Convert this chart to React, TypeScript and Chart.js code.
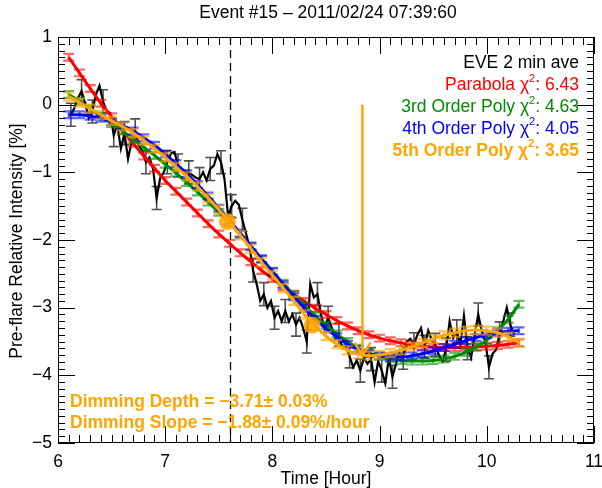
import React, { useEffect, useRef } from "react";
import { Chart, registerables } from "chart.js";

Chart.register(...registerables);

const TITLE = "Event #15 – 2011/02/24 07:39:60";
const X_LABEL = "Time [Hour]";
const Y_LABEL = "Pre-flare Relative Intensity [%]";
const X_TICKS = [6, 7, 8, 9, 10, 11];
const Y_TICKS = [1, 0, -1, -2, -3, -4, -5];

// EVE 2-minute averages
const EVE_START = 6.12; // hour of first sample
const EVE_CADENCE = 2 / 60; // hours
const EVE_VALUES = [
  -0.15, -0.05, 0.1, 0.2, 0.02, -0.2, -0.1, 0.15, 0.28, 0.05,
  -0.1, -0.12, -0.45, -0.3, -0.65, -0.42, -0.8, -0.55, -0.38, -0.6,
  -0.68, -0.85, -0.78, -0.95, -1.38, -1.08, -1.0, -0.85, -0.72, -0.7,
  -0.9, -0.95, -0.98, -1.0, -1.04, -1.08, -1.1, -1.0, -1.12, -0.95,
  -0.9, -0.73, -0.85, -1.1, -1.65, -1.5, -1.42, -1.48, -1.7, -1.9,
  -2.1, -2.45, -2.65, -2.9, -2.8, -3.0, -2.9, -3.15, -3.05, -3.2,
  -3.05, -3.2, -3.1, -3.25, -3.15, -3.3, -3.5, -2.65, -2.85, -2.8,
  -3.1, -3.3, -3.15, -3.3, -3.45, -3.4, -3.6, -3.58, -3.72, -3.88,
  -3.78, -3.93, -3.74, -3.83, -3.76, -4.1, -3.79, -3.93, -4.12, -3.74,
  -4.02, -3.83, -3.64, -3.74, -3.5, -3.46, -3.54, -3.4, -3.3, -3.58,
  -3.34, -3.48, -3.55, -3.7, -3.79, -3.62, -3.2, -3.45, -3.35, -3.55,
  -3.12, -3.6, -3.74, -3.4, -3.1, -3.35, -3.5, -3.88, -3.68, -3.62,
  -3.38, -3.2, -3.0, -3.25, -3.4,
];
const EVE_ERR = 0.17;

// Fit curves sampled on a 0.1 hour grid
const FIT_TIMES = [
  6.1, 6.2, 6.3, 6.4, 6.5, 6.6, 6.7, 6.8, 6.9, 7.0,
  7.1, 7.2, 7.3, 7.4, 7.5, 7.6, 7.7, 7.8, 7.9, 8.0,
  8.1, 8.2, 8.3, 8.4, 8.5, 8.6, 8.7, 8.8, 8.9, 9.0,
  9.1, 9.2, 9.3, 9.4, 9.5, 9.6, 9.7, 9.8, 9.9, 10.0,
  10.1, 10.2, 10.3,
];
const PARABOLA = [
  0.7, 0.47, 0.24, 0.02, -0.18, -0.38, -0.57, -0.76, -0.94, -1.12,
  -1.28, -1.44, -1.6, -1.76, -1.91, -2.05, -2.19, -2.32, -2.45, -2.57,
  -2.69, -2.8, -2.91, -3.01, -3.1, -3.19, -3.27, -3.34, -3.4, -3.45,
  -3.49, -3.52, -3.55, -3.57, -3.58, -3.59, -3.59, -3.59, -3.58, -3.57,
  -3.56, -3.54, -3.52,
];
const POLY3 = [
  0.15, 0.05, -0.06, -0.17, -0.28, -0.39, -0.51, -0.63, -0.75, -0.88,
  -1.01, -1.15, -1.29, -1.44, -1.59, -1.74, -1.92, -2.1, -2.28, -2.46,
  -2.64, -2.81, -2.97, -3.12, -3.26, -3.39, -3.5, -3.6, -3.67, -3.72,
  -3.75, -3.78, -3.79, -3.79, -3.78, -3.76, -3.72, -3.66, -3.58, -3.48,
  -3.34, -3.17, -2.95,
];
const POLY4 = [
  -0.15, -0.15, -0.17, -0.2, -0.25, -0.31, -0.39, -0.49, -0.6, -0.73,
  -0.87, -1.02, -1.18, -1.35, -1.53, -1.71, -1.9, -2.09, -2.28, -2.47,
  -2.66, -2.84, -3.01, -3.17, -3.31, -3.43, -3.54, -3.62, -3.68, -3.71,
  -3.73, -3.73, -3.71, -3.68, -3.64, -3.59, -3.54, -3.49, -3.44, -3.4,
  -3.37, -3.35, -3.34,
];
const POLY5 = [
  0.12, 0.03, -0.06, -0.15, -0.24, -0.32, -0.42, -0.53, -0.65, -0.78,
  -0.92, -1.06, -1.21, -1.38, -1.55, -1.74, -1.93, -2.13, -2.33, -2.52,
  -2.71, -2.9, -3.1, -3.27, -3.42, -3.54, -3.63, -3.69, -3.71, -3.7,
  -3.67, -3.63, -3.58, -3.52, -3.46, -3.41, -3.37, -3.34, -3.33, -3.34,
  -3.37, -3.43, -3.52,
];
const FIT_ERR = [0.05, 0.05, 0.05, 0.06];

const LEGEND_LABELS = ["EVE 2 min ave", "Parabola", "3rd Order Poly", "4th Order Poly", "5th Order Poly"];
const CHI2 = [null, "6.43", "4.63", "4.05", "3.65"];
const COLORS = ["#000000", "#ff0000", "#008a00", "#0000ff", "#ffa500"];
const CAP_COLORS = ["#505050", "rgba(255,0,0,0.6)", "rgba(0,138,0,0.6)", "rgba(0,0,255,0.6)", "rgba(255,165,0,0.65)"];

const FLARE_TIME = 7.6;
const SLOPE_TIMES = [7.58, 8.37];
const SLOPE_VALUES = [-1.73, -3.26];
const DEPTH_TIME = 8.84;
const DEPTH_VALUE = -3.71;
const DEPTH_TEXT = "Dimming Depth = −3.71± 0.03%";
const SLOPE_TEXT = "Dimming Slope = −1.88± 0.09%/hour";

const FONT = "'Liberation Sans', Arial, Helvetica, sans-serif";

type Part = { text: string; font: string; dy?: number };

function drawRich(ctx: CanvasRenderingContext2D, parts: Part[], xRight: number, y: number) {
  let total = 0;
  for (const p of parts) {
    ctx.font = p.font;
    total += ctx.measureText(p.text).width;
  }
  let x = xRight - total;
  ctx.textAlign = "left";
  ctx.textBaseline = "middle";
  for (const p of parts) {
    ctx.font = p.font;
    ctx.fillText(p.text, x, y + (p.dy || 0));
    x += ctx.measureText(p.text).width;
  }
}

const fmt = (v: number) => (v < 0 ? "−" + Math.abs(v) : String(v));

const overlayPlugin = {
  id: "overlay",
  beforeDatasetsDraw(chart: any) {
    const { ctx, chartArea, scales } = chart;
    const x = Math.round(scales.x.getPixelForValue(FLARE_TIME)) + 0.5;
    ctx.save();
    ctx.strokeStyle = "#000";
    ctx.lineWidth = 1.3;
    ctx.setLineDash([8, 5]);
    ctx.beginPath();
    ctx.moveTo(x, chartArea.top);
    ctx.lineTo(x, chartArea.bottom);
    ctx.stroke();
    ctx.restore();
  },
  beforeDatasetDraw(chart: any, args: any) {
    const ds = chart.data.datasets[args.index] as any;
    const { ctx, scales, chartArea } = chart;
    ctx.save();
    ctx.beginPath();
    ctx.rect(chartArea.left, chartArea.top, chartArea.right - chartArea.left, chartArea.bottom - chartArea.top);
    ctx.clip();
    ctx.strokeStyle = ds.capColor;
    ctx.lineWidth = ds.capWidthLine;
    const half = ds.capHalf;
    ds.data.forEach((p: any, i: number) => {
      if (i % ds.errStep !== 0) return;
      const px = scales.x.getPixelForValue(p.x);
      const yt = scales.y.getPixelForValue(p.y + ds.err);
      const yb = scales.y.getPixelForValue(p.y - ds.err);
      ctx.beginPath();
      ctx.moveTo(px, yt);
      ctx.lineTo(px, yb);
      ctx.moveTo(px - half, yt);
      ctx.lineTo(px + half, yt);
      ctx.moveTo(px - half, yb);
      ctx.lineTo(px + half, yb);
      ctx.stroke();
    });
    ctx.restore();
  },
  afterDatasetsDraw(chart: any) {
    const { ctx, scales } = chart;
    ctx.save();
    ctx.fillStyle = "rgba(255,165,0,0.85)";
    SLOPE_TIMES.forEach((t, i) => {
      ctx.beginPath();
      ctx.arc(scales.x.getPixelForValue(t), scales.y.getPixelForValue(SLOPE_VALUES[i]), 8.5, 0, Math.PI * 2);
      ctx.fill();
    });
    const ax = scales.x.getPixelForValue(DEPTH_TIME);
    const ay0 = scales.y.getPixelForValue(0);
    const ay1 = scales.y.getPixelForValue(DEPTH_VALUE);
    ctx.strokeStyle = "#ffa500";
    ctx.lineWidth = 2.5;
    ctx.beginPath();
    ctx.moveTo(ax, ay0);
    ctx.lineTo(ax, ay1);
    ctx.moveTo(ax - 8, ay1 - 13);
    ctx.lineTo(ax, ay1);
    ctx.lineTo(ax + 8, ay1 - 13);
    ctx.stroke();
    ctx.restore();
  },
  afterDraw(chart: any) {
    const { ctx, chartArea: a, scales } = chart;
    ctx.save();
    ctx.strokeStyle = "#000";
    ctx.lineWidth = 1;
    ctx.strokeRect(a.left + 0.5, a.top + 0.5, a.right - a.left - 1, a.bottom - a.top - 1);
    ctx.beginPath();
    for (let k = 60; k <= 110; k++) {
      const v = k / 10;
      const px = Math.round(scales.x.getPixelForValue(v)) + 0.5;
      const len = k % 10 === 0 ? 17 : 8;
      ctx.moveTo(px, a.bottom);
      ctx.lineTo(px, a.bottom - len);
      ctx.moveTo(px, a.top);
      ctx.lineTo(px, a.top + len);
    }
    for (let k = -50; k <= 10; k++) {
      const v = k / 10;
      const py = Math.round(scales.y.getPixelForValue(v)) + 0.5;
      const len = k % 10 === 0 ? 17 : 7;
      ctx.moveTo(a.left, py);
      ctx.lineTo(a.left + len, py);
      ctx.moveTo(a.right, py);
      ctx.lineTo(a.right - len, py);
    }
    ctx.stroke();

    ctx.fillStyle = "#000";
    ctx.font = `17.5px ${FONT}`;
    ctx.textAlign = "center";
    ctx.textBaseline = "middle";
    X_TICKS.forEach((t) => ctx.fillText(String(t), scales.x.getPixelForValue(t), 462));
    ctx.textAlign = "right";
    Y_TICKS.forEach((t) => ctx.fillText(fmt(t), 52, scales.y.getPixelForValue(t)));

    ctx.textAlign = "center";
    ctx.fillText(X_LABEL, (a.left + a.right) / 2, 479);
    ctx.save();
    ctx.translate(17, 241);
    ctx.rotate(-Math.PI / 2);
    ctx.fillText(Y_LABEL, 0, 0);
    ctx.restore();

    ctx.font = `17.5px ${FONT}`;
    ctx.fillText(TITLE, (a.left + a.right) / 2 + 2, 13);

    const ys = [63.5, 85.5, 107.5, 129.3, 151];
    LEGEND_LABELS.forEach((lab, i) => {
      ctx.fillStyle = COLORS[i];
      const w = i === 4 ? "bold " : "";
      if (CHI2[i] === null) {
        drawRich(ctx, [{ text: lab, font: `${w}17.5px ${FONT}` }], 579, ys[i]);
      } else {
        drawRich(
          ctx,
          [
            { text: lab + " χ", font: `${w}17.5px ${FONT}` },
            { text: "2", font: `${w}11px ${FONT}`, dy: -7 },
            { text: ": " + CHI2[i], font: `${w}17.5px ${FONT}` },
          ],
          579,
          ys[i]
        );
      }
    });

    ctx.fillStyle = "#ffa500";
    ctx.font = `bold 17.5px ${FONT}`;
    ctx.textAlign = "left";
    ctx.fillText(DEPTH_TEXT, 70, 402);
    ctx.fillText(SLOPE_TEXT, 70, 423);
    ctx.restore();
  },
};

export default function App() {
  const ref = useRef<HTMLCanvasElement>(null);
  useEffect(() => {
    const eve = EVE_VALUES.map((v, i) => ({ x: EVE_START + i * EVE_CADENCE, y: v }));
    const fit = (vals: number[]) => vals.map((v, i) => ({ x: FIT_TIMES[i], y: v }));
    const fits = [PARABOLA, POLY3, POLY4, POLY5];
    const datasets: any[] = [
      {
        label: LEGEND_LABELS[0],
        data: eve,
        borderColor: COLORS[0],
        borderWidth: 2.2,
        pointRadius: 0,
        tension: 0,
        order: 5,
        err: EVE_ERR,
        errStep: 3,
        capColor: CAP_COLORS[0],
        capWidthLine: 1.6,
        capHalf: 5,
      },
      ...fits.map((vals, k) => ({
        label: LEGEND_LABELS[k + 1],
        data: fit(vals),
        borderColor: COLORS[k + 1],
        borderWidth: 3,
        pointRadius: 0,
        cubicInterpolationMode: "monotone",
        order: 4 - k,
        err: FIT_ERR[k],
        errStep: 1,
        capColor: CAP_COLORS[k + 1],
        capWidthLine: 2.2,
        capHalf: 5.5,
      })),
    ];
    const chart = new Chart(ref.current as HTMLCanvasElement, {
      type: "line",
      data: { datasets },
      options: {
        responsive: false,
        animation: false,
        devicePixelRatio: 1,
        layout: { padding: { left: 58, right: 8, top: 37, bottom: 45 } },
        scales: {
          x: { type: "linear", min: 6, max: 11, display: false },
          y: { type: "linear", min: -5, max: 1, display: false },
        },
        plugins: { legend: { display: false }, tooltip: { enabled: false }, title: { display: false } },
        events: [],
      },
      plugins: [overlayPlugin],
    } as any);
    return () => chart.destroy();
  }, []);
  return (
    <div style={{ position: "fixed", left: 0, top: 0, width: 602, height: 488, background: "#fff" }}>
      <canvas ref={ref} width={602} height={488} style={{ display: "block", width: 602, height: 488 }} />
    </div>
  );
}
